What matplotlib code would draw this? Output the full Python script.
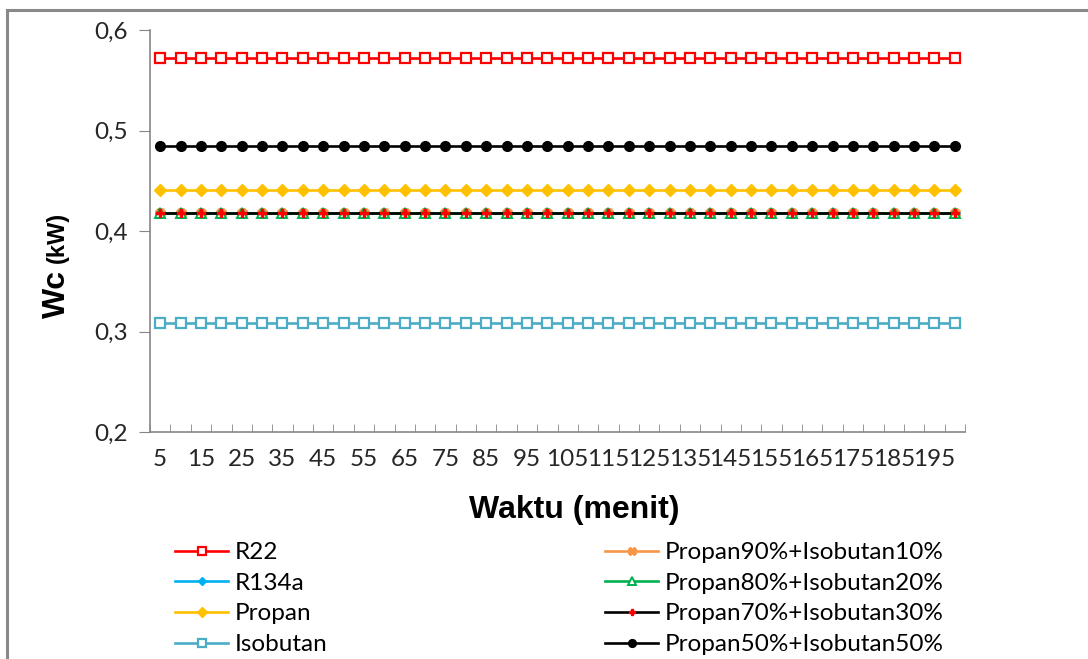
import numpy as np
import matplotlib.pyplot as plt
from matplotlib.lines import Line2D

# waktu (menit) dan daya kompresor Wc (kW) tiap refrigeran
waktu = list(range(5, 205, 5))
n = len(waktu)
wc_r22 = [0.572] * n
wc_r134a = [0.418] * n
wc_propan = [0.441] * n
wc_isobutan = [0.308] * n
wc_p90 = [0.418] * n
wc_p80 = [0.418] * n
wc_p70 = [0.418] * n
wc_p50 = [0.485] * n

W, H = 1088, 659
fig = plt.figure(figsize=(W/100, H/100), dpi=100)
ax = fig.add_axes([150/W, 1-432/H, (965-150)/W, (432-30)/H])

x = np.arange(n)
lw = 1.9
seri = [
    (wc_r22, "R22", dict(color="#FF0000", marker="s", mfc="white", mec="#FF0000", ms=7, mew=1.6)),
    (wc_r134a, "R134a", dict(color="#00B0F0", marker="D", mfc="#00B0F0", mec="#00B0F0", ms=5)),
    (wc_propan, "Propan", dict(color="#FFC000", marker="D", mfc="#FFC000", mec="#FFC000", ms=6)),
    (wc_isobutan, "Isobutan", dict(color="#4BACC6", marker="s", mfc="white", mec="#4BACC6", ms=7, mew=1.6)),
    (wc_p90, "Propan90%+Isobutan10%", dict(color="#F79646", marker="X", mfc="#F79646", mec="#F79646", ms=7)),
    (wc_p80, "Propan80%+Isobutan20%", dict(color="#00B050", marker="^", mfc="white", mec="#00B050", ms=7, mew=1.4)),
    (wc_p70, "Propan70%+Isobutan30%", dict(color="black", marker="P", mfc="#FF0000", mec="#FF0000", ms=6)),
    (wc_p50, "Propan50%+Isobutan50%", dict(color="black", marker="o", mfc="black", mec="black", ms=7)),
]
handles = []
for y, lab, st in seri:
    h, = ax.plot(x, y, lw=lw, label=lab, **st)
    handles.append(h)

ax.set_xlim(-0.5, n - 0.5)
ax.set_ylim(0.2, 0.6)
ax.set_yticks([0.2, 0.3, 0.4, 0.5, 0.6])
ax.set_yticklabels(["0,2", "0,3", "0,4", "0,5", "0,6"])
ax.set_xticks(x[::2])
ax.set_xticklabels([str(w) for w in waktu[::2]])
ax.set_xticks(np.arange(n + 1) - 0.5, minor=True)
ax.tick_params(axis="x", which="major", length=0, pad=12)
ax.tick_params(axis="x", which="minor", length=6, direction="in", color="#868686")
ax.tick_params(axis="y", length=8, direction="out", color="#868686", pad=8)
for lbl in ax.get_xticklabels() + ax.get_yticklabels():
    lbl.set_fontfamily("Lato")
    lbl.set_fontsize(17.5)
    lbl.set_color("#262626")
for s in ["top", "right"]:
    ax.spines[s].set_visible(False)
for s in ["left", "bottom"]:
    ax.spines[s].set_color("#868686")
    ax.spines[s].set_linewidth(1.2)

fig.text(574/W, 1-510/H, "Waktu (menit)", ha="center", va="center",
         fontsize=23, fontweight="bold", family="Liberation Sans")
fig.text(57/W, 1-294/H, "Wc", rotation=90, ha="center", va="center",
         fontsize=23, fontweight="bold", family="Liberation Sans")
fig.text(57/W, 1-237/H, "(kW)", rotation=90, ha="center", va="center",
         fontsize=17, fontweight="bold", family="Liberation Sans")

lkw = dict(frameon=False, loc="upper left", borderpad=0, borderaxespad=0,
           handlelength=2.2, handletextpad=0.25, labelspacing=0.4,
           markerscale=0.8, prop={"family": "Lato", "size": 17.5})
fig.legend(handles=handles[:4], bbox_to_anchor=(175/W, 1-542/H), **lkw)
fig.legend(handles=handles[4:], bbox_to_anchor=(605/W, 1-542/H), **lkw)

# bingkai area grafik
fig.add_artist(Line2D([7/W, 7/W], [0, 1-10/H], color="#898989", lw=2.2))
fig.add_artist(Line2D([7/W, 1], [1-10/H, 1-10/H], color="#898989", lw=2.2))

fig.savefig("out.png", dpi=100)
